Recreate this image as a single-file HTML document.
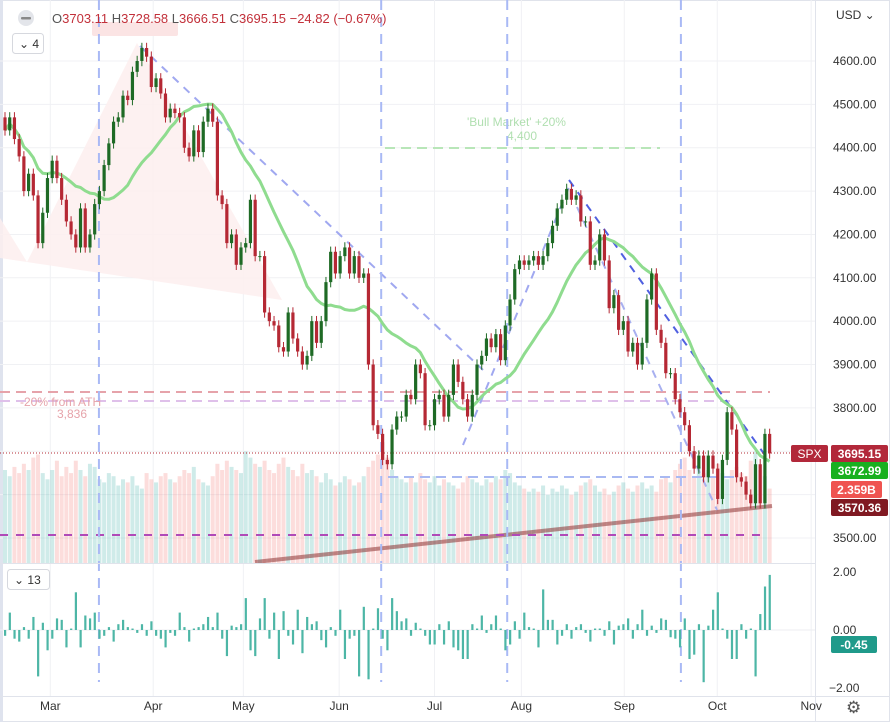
<!DOCTYPE html>
<html><head><meta charset="utf-8">
<style>
html,body{margin:0;padding:0;background:#fff;}
svg{display:block;font-family:"Liberation Sans",sans-serif;}
</style></head>
<body>
<svg id="chart" width="890" height="722" viewBox="0 0 890 722" xmlns="http://www.w3.org/2000/svg">
<rect x="0" y="0" width="890" height="722" fill="#fff"/>
<rect x="0.5" y="0.5" width="889" height="721" fill="none" stroke="#e0e3eb"/>
<rect x="0" y="0" width="3" height="722" fill="#dfe3ee"/>
<g id="grid"></g>
<polygon points="0,218 27,262 137,43 282,300 0,258" fill="#fdeeee" opacity="0.85"/>
<rect x="92" y="22" width="86" height="14" rx="2" fill="#fbe4e4"/>
<g id="vols"></g>
<line x1="255" y1="562" x2="772" y2="506" stroke="rgba(140,50,50,0.55)" stroke-width="4"/>
<line x1="0" y1="392" x2="770" y2="392" stroke="#e6a3aa" stroke-width="2" stroke-dasharray="10,6"/>
<line x1="0" y1="401" x2="735" y2="401" stroke="#dfc0ea" stroke-width="2" stroke-dasharray="10,6"/>
<text x="20" y="406" font-size="12" fill="#e6a3aa">-20% from ATH</text>
<text x="57" y="418" font-size="12" fill="#e6a3aa">3,836</text>
<line x1="385" y1="148" x2="660" y2="148" stroke="#b8e6b8" stroke-width="2" stroke-dasharray="10,6"/>
<text x="467" y="126" font-size="12" fill="#b0dfb0">'Bull Market' +20%</text>
<text x="507" y="140" font-size="12" fill="#b0dfb0">4,400</text>
<line x1="388" y1="477" x2="740" y2="477" stroke="#a9b9f2" stroke-width="2" stroke-dasharray="10,6"/>
<line x1="0" y1="535" x2="760" y2="535" stroke="#b04ab8" stroke-width="2" stroke-dasharray="8,8"/>
<g stroke-width="2" stroke-dasharray="8,7">
<line x1="140" y1="46" x2="483" y2="370" stroke="#a0a8f0"/>
<line x1="463" y1="445" x2="571" y2="182" stroke="#a0a8f0"/>
<line x1="577" y1="207" x2="717" y2="510" stroke="#a8b0f0"/>
<line x1="569" y1="180" x2="767" y2="458" stroke="#5060e0"/>
</g>
<g id="vlines"></g>
<line x1="0" y1="453" x2="790" y2="453" stroke="#b22833" stroke-width="1" stroke-dasharray="1,2"/>
<path id="ma" fill="none" stroke="#8fdc8f" stroke-width="3" stroke-linejoin="round"/>
<g id="candles"></g>
<line x1="0" y1="563.5" x2="815" y2="563.5" stroke="#e0e3eb"/>
<line x1="0" y1="696.5" x2="890" y2="696.5" stroke="#e0e3eb"/>
<line x1="815.5" y1="0" x2="815.5" y2="722" stroke="#e0e3eb"/>
<g id="osc"></g>
<g id="axes" font-size="12" fill="#333"></g>
<!-- header -->
<circle cx="26" cy="18" r="8" fill="#e3e5ea"/>
<rect x="21" y="17" width="10" height="2.5" rx="1" fill="#888"/>
<text x="52" y="23" font-size="13" fill="#c2303a"><tspan fill="#555">O</tspan>3703.11 <tspan fill="#555">H</tspan>3728.58 <tspan fill="#555">L</tspan>3666.51 <tspan fill="#555">C</tspan>3695.15 −24.82 (−0.67%)</text>
<rect x="12.5" y="33.5" width="31" height="20" rx="3" fill="#fff" stroke="#d6d8de"/>
<text x="19" y="48" font-size="12" fill="#333">⌄ 4</text>
<rect x="7.5" y="569.5" width="42" height="20" rx="3" fill="#fff" stroke="#d6d8de"/>
<text x="14" y="584" font-size="12" fill="#333">⌄ 13</text>
<text x="836" y="19" font-size="12" fill="#333">USD ⌄</text>
<text x="846" y="713" font-size="17" fill="#555">⚙</text>
<!-- labels -->
<rect x="791" y="445" width="37" height="17" rx="2" fill="#b2283a"/>
<text x="809.5" y="458" font-size="12" fill="#fff" text-anchor="middle">SPX</text>
<rect x="831" y="445" width="57" height="17" rx="2" fill="#b2283a"/>
<text x="859.5" y="458" font-size="12" fill="#fff" text-anchor="middle" font-weight="bold">3695.15</text>
<rect x="831" y="462" width="57" height="17" rx="2" fill="#19b01f"/>
<text x="859.5" y="475" font-size="12" fill="#fff" text-anchor="middle" font-weight="bold">3672.99</text>
<rect x="831" y="481" width="51" height="17" rx="2" fill="#ef5350"/>
<text x="856.5" y="494" font-size="12" fill="#fff" text-anchor="middle" font-weight="bold">2.359B</text>
<rect x="831" y="499" width="57" height="17" rx="2" fill="#801922"/>
<text x="859.5" y="512" font-size="12" fill="#fff" text-anchor="middle" font-weight="bold">3570.36</text>
<rect x="831" y="636" width="46" height="17" rx="2" fill="#1f9a8a"/>
<text x="854" y="649" font-size="12" fill="#fff" text-anchor="middle" font-weight="bold">-0.45</text>
</svg>
<script>
const closes=[4440,4470,4420,4380,4300,4340,4290,4180,4250,4330,4370,4330,4280,4230,4200,4170,4260,4170,4200,4270,
4300,4360,4410,4460,4470,4520,4510,4575,4600,4630,4610,4540,4560,4525,4470,4490,4480,4470,4400,4380,
4440,4390,4460,4490,4460,4290,4270,4180,4200,4130,4170,4180,4280,4150,4150,4020,4000,3990,3940,3930,
4020,3960,3930,3900,3920,4000,3950,4000,4090,4160,4110,4150,4170,4110,4150,4100,4110,3900,3760,3740,
3680,3670,3750,3780,3780,3830,3820,3900,3880,3760,3760,3820,3830,3780,3830,3900,3860,3820,3780,3830,
3900,3920,3960,3940,3970,3910,3990,4050,4120,4140,4130,4140,4150,4130,4150,4180,4220,4260,4280,4305,
4280,4290,4230,4230,4130,4140,4200,4140,4030,4060,3980,4000,3930,3950,3900,3950,4050,4110,3980,3950,
3880,3880,3820,3790,3760,3700,3660,3690,3640,3690,3660,3590,3680,3790,3750,3640,3630,3600,3580,3670,
3580,3740,3695];
const volumes=[3.0,2.8,3.1,2.9,3.2,3.0,3.4,3.5,2.9,2.7,3.0,3.3,2.8,3.1,2.9,3.3,3.0,2.8,3.2,3.1,
2.7,2.6,2.9,2.8,2.5,2.7,2.6,2.8,2.5,2.4,2.9,2.7,2.6,2.8,2.9,2.7,2.6,2.8,3.0,2.9,
3.1,2.7,2.6,2.5,2.8,3.2,3.0,3.3,3.1,3.0,2.9,3.6,3.4,3.2,3.1,3.3,3.0,2.9,3.2,3.4,
3.1,3.0,2.8,3.2,2.9,3.0,2.8,2.6,2.9,2.7,2.5,2.6,2.8,2.7,2.5,2.6,2.8,3.1,3.3,3.5,
3.9,3.4,3.0,2.8,2.7,2.6,2.8,2.6,2.9,2.7,2.6,2.8,2.5,2.7,2.6,2.5,2.4,2.6,2.8,2.7,
2.6,2.5,2.7,2.6,2.8,2.7,3.0,2.9,2.6,2.5,2.4,2.3,2.4,2.3,2.5,2.2,2.4,2.3,2.5,2.4,
2.2,2.3,2.5,2.6,2.7,2.5,2.3,2.4,2.2,2.3,2.5,2.6,2.4,2.3,2.5,2.6,2.4,2.5,2.3,2.7,
2.8,2.6,3.0,3.2,3.4,3.0,2.8,3.1,2.9,3.0,2.8,3.2,2.9,2.7,3.0,3.1,2.9,2.8,3.3,3.6,
3.0,2.8,2.4];
const oscValues=[-0.2,0.6,-0.3,-0.4,0.1,-0.3,0.45,-1.6,0.25,-0.7,-0.3,0.4,0.35,-0.6,0.05,1.3,-0.6,0.5,0.4,0.6,
-0.3,-0.2,0.1,-0.4,0.2,0.35,0.1,0.05,-0.1,0.2,-0.2,0.3,-0.2,-0.3,-0.6,-0.1,-0.2,0.6,0.1,-0.4,
0.05,0.1,0.2,0.45,0.1,0.6,-0.3,-0.9,0.15,0.1,0.2,1.1,-0.7,-0.9,0.4,1.1,-0.3,0.6,-1.0,0.65,
-0.2,-0.5,0.7,-0.8,0.45,0.2,0.3,-0.35,-0.6,0.1,-0.2,0.7,-1.0,-0.3,-0.2,-1.6,0.8,-1.7,0.05,0.75,
-0.3,-0.7,1.1,0.65,0.3,0.4,-0.2,0.25,0.05,-0.2,-0.5,-0.5,0.2,-0.5,0.3,-0.6,-0.7,-1.0,-1.0,0.2,
0.05,0.5,-0.1,0.2,0.5,0.05,-0.7,-0.5,0.3,-0.3,0.6,0.1,0.05,-0.6,1.4,0.35,0.35,-0.5,-0.2,0.2,
-0.3,0.1,0.2,-0.1,-0.4,0.05,0.05,-0.2,0.3,-0.5,0.15,0.2,0.4,-0.3,0.2,0.7,-0.2,0.15,-0.1,0.4,
0.35,-0.25,-0.3,-0.6,0.4,-1.0,-0.85,0.2,-1.8,0.15,0.7,1.3,0.05,-0.3,-1.0,-1.0,0.2,-0.3,0.05,-1.6,
0.55,1.5,1.9,-0.45];
const priceTicks=[4600,4500,4400,4300,4200,4100,4000,3900,3800,3500];
const oscTicks=[2,0,-2];
const oscTickLabels=["2.00","0.00","−2.00"];
const months=["Mar","Apr","May","Jun","Jul","Aug","Sep","Oct","Nov"];
const monthIdx=[9.6,31.4,50.5,70.8,91,109.4,131.2,150.9,170.8];
const eventIdx=[19.9,79.7,106.4,143.2];

const NS="http://www.w3.org/2000/svg";
const X0=5, DX=4.72;
const xAt=i=>X0+i*DX;
const yP=p=>61+(4600-p)*0.4336;
const yV=v=>563-v*31;
const yO=v=>630-v*29;
function mk(tag,attrs,parent){const e=document.createElementNS(NS,tag);for(const k in attrs)e.setAttribute(k,attrs[k]);document.getElementById(parent).appendChild(e);return e;}

// grid
priceTicks.concat([3700,3600]).forEach(p=>{const l=mk('line',{x1:0,x2:815,y1:yP(p),y2:yP(p),stroke:'#f0f1f4'},'grid');

});
monthIdx.forEach(m=>{const l=mk('line',{x1:xAt(m),x2:xAt(m),y1:0,y2:696,stroke:'#f0f1f4'},'grid');

});
[yO(0)].forEach(y=>{mk('line',{x1:0,x2:815,y1:y,y2:y,stroke:'#eceef2'},'grid');});

const n=closes.length;
// volumes
for(let i=0;i<n;i++){
  const up=i===0?true:closes[i]>=closes[i-1];
  const v=volumes[i]!==undefined?volumes[i]:2.6;
  const r=mk('rect',{x:xAt(i)-2,y:yV(v),width:4,height:563-yV(v),fill:up?'rgba(38,166,154,0.22)':'rgba(239,83,80,0.2)'},'vols');
  
  
}
// event lines
eventIdx.forEach(e=>{const l=mk('line',{x1:xAt(e),x2:xAt(e),y1:0,y2:682,stroke:'#a9b9f5',"stroke-width":2,"stroke-dasharray":"10,7"},'vlines');

});
// candles
for(let i=0;i<n;i++){
  const c=closes[i], o=i===0?4470:closes[i-1];
  const up=c>=o, col=up?'#1e6a25':'#b52834';
  const hi=Math.max(o,c)+12, lo=Math.min(o,c)-12, x=xAt(i);
  const w=mk('line',{x1:x,x2:x,y1:yP(hi),y2:yP(lo),stroke:col,"stroke-width":1},'candles');
  
  
  const b=mk('rect',{x:x-1.6,y:yP(Math.max(o,c)),width:3.2,height:Math.max(1,Math.abs(yP(o)-yP(c))),fill:col},'candles');
  
  
}
// moving average (20)
let d='';
for(let i=0;i<n;i++){const s=Math.max(0,i-19);let sum=0;for(let j=s;j<=i;j++)sum+=closes[j];const m=sum/(i-s+1);d+=(i?'L':'M')+xAt(i).toFixed(1)+','+yP(m).toFixed(1);}
document.getElementById('ma').setAttribute('d',d);
// oscillator
for(let i=0;i<Math.min(n,oscValues.length);i++){
  const v=oscValues[i], y=yO(v), y0=yO(0);
  const r=mk('rect',{x:xAt(i)-1,y:Math.min(y,y0),width:2.2,height:Math.abs(y-y0),fill:'#4db6a6'},'osc');
  
  
}
// axes
priceTicks.forEach(p=>{const t=mk('text',{x:833,y:yP(p)+4},'axes');t.textContent=p.toFixed(2);

});
oscTicks.forEach((v,k)=>{const t=mk('text',{x:v<0?829:833,y:yO(v)+4},'axes');t.textContent=oscTickLabels[k];

});
months.forEach((m,k)=>{const t=mk('text',{x:xAt(monthIdx[k]),y:710,"text-anchor":"middle"},'axes');t.textContent=m;

});
</script>
</body></html>
